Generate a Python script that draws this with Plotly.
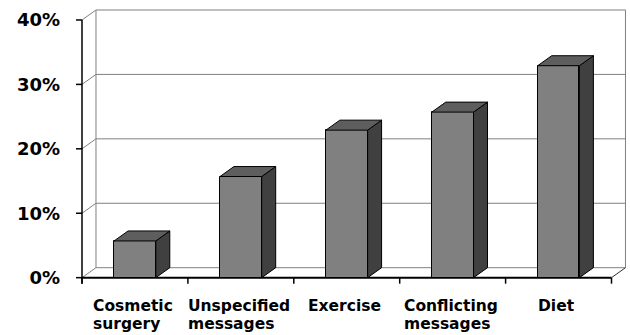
import plotly.graph_objects as go

# Share of messages by topic (percent)
categories = ["Cosmetic<br>surgery", "Unspecified<br>messages", "Exercise",
              "Conflicting<br>messages", "Diet"]
values = [5.7, 15.7, 22.9, 25.7, 32.9]
y_ticks = [0, 10, 20, 30, 40]
y_tick_labels = [f"{t}%" for t in y_ticks]

# Pseudo-3D geometry (data units)
BAR_W = 0.394          # width of a column's front face
DX, DY = 0.132, 1.55   # depth offset of the back plane
N = len(categories)
X0, X1 = -0.5, N - 0.5
YMAX = y_ticks[-1]

FRONT = "#808080"
SIDE = "#404040"
TOP = "#5e5e5e"
GRID = "#808080"
AXIS = "#000000"
FONT = "DejaVu Sans"

fig = go.Figure()

shapes = []
def seg(x0, y0, x1, y1, color, width=1):
    shapes.append(dict(type="line", xref="x", yref="y", x0=x0, y0=y0, x1=x1, y1=y1,
                       line=dict(color=color, width=width), layer="below"))

# Back wall: gridlines, left diagonals, vertical edges
for t in y_ticks:
    seg(X0 + DX, t + DY, X1 + DX, t + DY, GRID)
    seg(X0, t, X0 + DX, t + DY, GRID)
seg(X0 + DX, DY, X0 + DX, YMAX + DY, GRID)
seg(X1 + DX, DY, X1 + DX, YMAX + DY, GRID)
# Floor right edge
seg(X1, 0, X1 + DX, DY, "#303030")

# Front axes
tick_dx = 6 / 105.9
tick_dy = 6 / 6.44
seg(X0, -tick_dy, X0, YMAX, AXIS, 1.5)
for t in y_ticks:
    seg(X0 - tick_dx, t, X0, t, AXIS, 1.5)
seg(X0, 0, X1, 0, AXIS, 2)
for k in range(N + 1):
    seg(X0 + k, 0, X0 + k, -tick_dy, AXIS, 1.5)

# Column front faces
fig.add_trace(go.Bar(
    x=list(range(N)), y=values, width=BAR_W,
    marker=dict(color=FRONT, line=dict(color="black", width=1)),
    hoverinfo="skip", showlegend=False,
))

# Column side and top faces
for i, v in enumerate(values):
    xl, xr = i - BAR_W / 2, i + BAR_W / 2
    fig.add_trace(go.Scatter(
        x=[xr, xr + DX, xr + DX, xr, xr], y=[0, DY, v + DY, v, 0],
        mode="lines", fill="toself", fillcolor=SIDE,
        line=dict(color="black", width=1), hoverinfo="skip", showlegend=False,
    ))
    fig.add_trace(go.Scatter(
        x=[xl, xl + DX, xr + DX, xr, xl], y=[v, v + DY, v + DY, v, v],
        mode="lines", fill="toself", fillcolor=TOP,
        line=dict(color="black", width=1), hoverinfo="skip", showlegend=False,
    ))

# Category labels, left-aligned lines with compact line pitch
LABEL_PX = 15.5
annotations = []
for i, c in enumerate(categories):
    lines = c.split("<br>")
    txt = "<br>".join(f"<span style='font-size:{LABEL_PX}px'>{ln}</span>" for ln in lines)
    annotations.append(dict(
        x=i, y=-3, xref="x", yref="y", text=txt, showarrow=False,
        xanchor="center", yanchor="top", align="left", yshift=2, xshift=-2,
        font=dict(family=FONT, size=13.9, color="black", weight="bold"),
    ))

fig.update_layout(
    width=630, height=335,
    margin=dict(l=70, r=0, t=0, b=38),
    paper_bgcolor="white", plot_bgcolor="white",
    shapes=shapes, annotations=annotations,
    bargap=0,
    xaxis=dict(range=[X0 - 12 / 105.9, X0 + 548 / 105.9], showgrid=False,
               zeroline=False, showline=False, showticklabels=False, ticks=""),
    yaxis=dict(range=[-3, 43.1], showgrid=False, zeroline=False, showline=False,
               tickvals=y_ticks, ticktext=y_tick_labels, ticks="",
               ticklabelstandoff=9,
               tickfont=dict(family=FONT, size=18, color="black", weight="bold")),
)

fig.write_html("out.html")
